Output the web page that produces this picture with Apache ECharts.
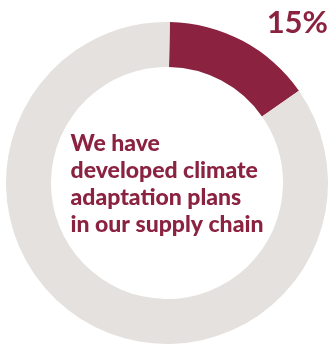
<!DOCTYPE html>
<html>
<head>
<meta charset="utf-8">
<style>
  html, body { margin: 0; padding: 0; background: #ffffff; }
  #chart { width: 334px; height: 347px; }
</style>
<script src="https://cdn.jsdelivr.net/npm/echarts@6/dist/echarts.min.js"></script>
</head>
<body>
<div id="chart"></div>
<script>
// Share of respondents with climate adaptation plans in the supply chain
const categories = ['Developed plans', 'Other'];
const values = [15, 85];
const colors = ['#8a2240', '#e4e1de'];
const centerLines = ['We have', 'developed climate', 'adaptation plans', 'in our supply chain'];

const chart = echarts.init(document.getElementById('chart'), null, { renderer: 'canvas' });

chart.setOption({
  animation: false,
  series: [{
    type: 'pie',
    center: [167, 183],
    radius: [116, 161],
    startAngle: 89,
    clockwise: true,
    silent: true,
    label: { show: false },
    labelLine: { show: false },
    data: categories.map((name, i) => ({
      name: name,
      value: values[i],
      itemStyle: { color: colors[i] }
    }))
  }],
  graphic: [
    {
      type: 'text',
      right: 6,
      top: 7,
      style: {
        text: values[0] + '%',
        font: 'bold 31px Lato',
        fill: '#8a2240'
      }
    },
    {
      type: 'text',
      left: 'center',
      top: 130,
      style: {
        text: centerLines.join('\n'),
        font: '900 23px Lato',
        lineHeight: 27,
        align: 'center',
        fill: '#8a2240'
      }
    }
  ]
});
</script>
</body>
</html>
